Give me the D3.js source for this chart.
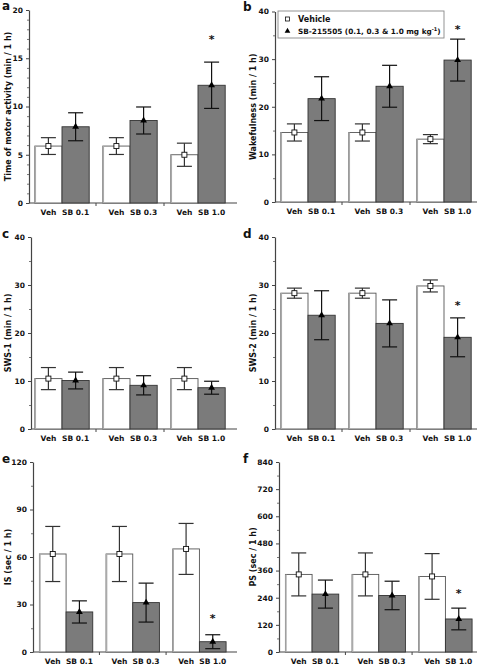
<!DOCTYPE html>
<html><head><meta charset="utf-8">
<script src="https://cdn.jsdelivr.net/npm/d3@7"></script>
<style>
body{margin:0;background:#fff;}
svg{display:block;}
text{font-family:"DejaVu Sans",sans-serif;}
</style></head>
<body>
<svg id="chart" width="480" height="665"></svg>
<script>
// ---- data ----
const groups = ["0.1", "0.3", "1.0"];
const seriesNames = ["Vehicle", "SB-215505"];
const vehLabels = ["Veh", "Veh", "Veh"];
const sbLabels = ["SB 0.1", "SB 0.3", "SB 1.0"];

const motorVeh = [5.9, 5.9, 5.0],   motorVehErr = [0.87, 0.87, 1.2];
const motorSB  = [7.9, 8.55, 12.2], motorSBErr  = [1.45, 1.4, 2.4];
const wakeVeh  = [14.6, 14.6, 13.2], wakeVehErr = [1.8, 1.8, 0.95];
const wakeSB   = [21.7, 24.3, 29.8], wakeSBErr  = [4.6, 4.4, 4.4];
const sws1Veh  = [10.5, 10.5, 10.5], sws1VehErr = [2.3, 2.3, 2.3];
const sws1SB   = [10.1, 9.1, 8.6],   sws1SBErr  = [1.75, 2.0, 1.35];
const sws2Veh  = [28.3, 28.3, 29.8], sws2VehErr = [1.05, 1.05, 1.25];
const sws2SB   = [23.7, 22.0, 19.1], sws2SBErr  = [5.1, 4.9, 4.05];
const isVeh    = [61.9, 61.9, 65.1], isVehErr   = [17.4, 17.4, 16.1];
const isSB     = [25.3, 31.2, 6.5],  isSBErr    = [7.0, 12.3, 4.4];
const psVeh    = [343, 343, 334],    psVehErr   = [95, 95, 101];
const psSB     = [256, 250, 146],    psSBErr    = [62, 63, 48];

const ticksMotor = [0, 5, 10, 15, 20];
const ticksMin40 = [0, 10, 20, 30, 40];
const ticksIS = [0, 30, 60, 90, 120];
const ticksPS = [0, 120, 240, 360, 480, 600, 720, 840];
const minorMotor = d3.range(0, 21, 1);
const minorMin40 = d3.range(0, 41, 5);
const minorIS = d3.range(0, 121, 15);
const minorPS = d3.range(0, 841, 60);

// significance stars (value position, group index)
const starsMotor = [{g: 2, v: 17.2}];
const starsWake  = [{g: 2, v: 36.8}];
const starsSws2  = [{g: 2, v: 26.2}];
const starsIS    = [{g: 2, v: 22.7}];
const starsPS    = [{g: 2, v: 270}];

// ---- layout ----
const panels = [
  {letter: "a", title: "Time of motor activity (min / 1 h)", veh: motorVeh, vehErr: motorVehErr, sb: motorSB, sbErr: motorSBErr, ticks: ticksMotor, minor: minorMotor, stars: starsMotor,
   axisX: 29, axisEnd: 237, x0: 28, x1: 232, y0: 203, y1: 10, lx: 2, ly: 10, tx: 8},
  {letter: "b", title: "Wakefulness (min / 1 h)", veh: wakeVeh, vehErr: wakeVehErr, sb: wakeSB, sbErr: wakeSBErr, ticks: ticksMin40, minor: minorMin40, stars: starsWake,
   axisX: 275, axisEnd: 477, x0: 274, x1: 478, y0: 202, y1: 11.5, lx: 243, ly: 11, tx: 253, legend: true},
  {letter: "c", title: "SWS-1 (min / 1 h)", veh: sws1Veh, vehErr: sws1VehErr, sb: sws1SB, sbErr: sws1SBErr, ticks: ticksMin40, minor: minorMin40, stars: [],
   axisX: 31, axisEnd: 237, x0: 28, x1: 232, y0: 429, y1: 237, lx: 2, ly: 238, tx: 8},
  {letter: "d", title: "SWS-2 (min / 1 h)", veh: sws2Veh, vehErr: sws2VehErr, sb: sws2SB, sbErr: sws2SBErr, ticks: ticksMin40, minor: minorMin40, stars: starsSws2,
   axisX: 275, axisEnd: 477, x0: 274, x1: 478, y0: 429, y1: 237, lx: 243, ly: 238, tx: 253},
  {letter: "e", title: "IS (sec / 1 h)", veh: isVeh, vehErr: isVehErr, sb: isSB, sbErr: isSBErr, ticks: ticksIS, minor: minorIS, stars: starsIS,
   axisX: 33, axisEnd: 237, x0: 32.75, x1: 232.75, y0: 652, y1: 462, lx: 2, ly: 463, tx: 8},
  {letter: "f", title: "PS (sec / 1 h)", veh: psVeh, vehErr: psVehErr, sb: psSB, sbErr: psSBErr, ticks: ticksPS, minor: minorPS, stars: starsPS,
   axisX: 279, axisEnd: 477, x0: 278.75, x1: 478.75, y0: 652, y1: 462, lx: 243, ly: 463, tx: 253}
];

const svg = d3.select("#chart");
const GRAY = "#7b7b7b", AXIS = "#444";
const FONT = "DejaVu Sans, sans-serif";

panels.forEach(p => {
  const g = svg.append("g");
  const yMax = p.ticks[p.ticks.length - 1];
  const y = d3.scaleLinear().domain([0, yMax]).range([p.y0, p.y1]);
  const xg = d3.scaleBand().domain(groups).range([p.x0, p.x1]).paddingInner(0.2).paddingOuter(0.1);
  const xs = d3.scaleBand().domain(seriesNames).range([0, xg.bandwidth()]).padding(0);

  // minor ticks
  g.append("g").attr("transform", `translate(${p.axisX},0)`)
    .call(d3.axisLeft(y).tickValues(p.minor.filter(v => !p.ticks.includes(v))).tickSize(2).tickFormat(""))
    .call(a => a.select(".domain").remove())
    .selectAll("line").attr("stroke", "#777");

  // y axis
  const ya = g.append("g").attr("transform", `translate(${p.axisX},0)`)
    .call(d3.axisLeft(y).tickValues(p.ticks).tickSize(3).tickSizeOuter(0).tickPadding(3));
  ya.select(".domain").attr("stroke", AXIS).attr("stroke-width", 1.2);
  ya.selectAll("line").attr("stroke", AXIS);
  ya.selectAll("text").attr("font-size", 7.5).attr("font-weight", "bold").attr("fill", "#111")
    .attr("font-family", FONT);

  // x axis line with group boundary ticks
  g.append("line").attr("x1", p.axisX).attr("x2", p.axisEnd).attr("y1", p.y0).attr("y2", p.y0)
    .attr("stroke", AXIS).attr("stroke-width", 1.2);
  const step = xg.step();
  groups.slice(1).forEach(gr => {
    const bx = xg(gr) - step * xg.paddingInner() / 2;
    g.append("line").attr("x1", bx).attr("x2", bx).attr("y1", p.y0).attr("y2", p.y0 + 3).attr("stroke", AXIS);
  });

  const rows = groups.map((gr, i) => ({gr, i}));
  // bars
  rows.forEach(({gr, i}) => {
    const bx = xg(gr);
    const vx = bx + xs("Vehicle"), sx = bx + xs("SB-215505"), w = xs.bandwidth();
    g.append("rect").attr("x", vx).attr("y", y(p.veh[i])).attr("width", w).attr("height", y(0) - y(p.veh[i]))
      .attr("fill", "#fff").attr("stroke", "#555").attr("stroke-width", 0.9);
    g.append("line").attr("x1", vx + 0.5).attr("x2", vx + 0.5).attr("y1", y(p.veh[i])).attr("y2", y(0))
      .attr("stroke", "#aaa").attr("stroke-width", 1.5);
    g.append("rect").attr("x", sx).attr("y", y(p.sb[i])).attr("width", w).attr("height", y(0) - y(p.sb[i]))
      .attr("fill", GRAY).attr("stroke", "#333").attr("stroke-width", 0.9);
  });

  // error bars, markers, labels
  const cap = 7.5;
  rows.forEach(({gr, i}) => {
    const bx = xg(gr), w = xs.bandwidth();
    [["Vehicle", p.veh[i], p.vehErr[i]], ["SB-215505", p.sb[i], p.sbErr[i]]].forEach(([s, v, e]) => {
      const cx = bx + xs(s) + w / 2;
      const col = s === "Vehicle" ? "#333" : "#111";
      g.append("line").attr("x1", cx).attr("x2", cx).attr("y1", y(v + e)).attr("y2", y(v - e)).attr("stroke", col).attr("stroke-width", 1.2);
      [v + e, v - e].forEach(t => g.append("line").attr("x1", cx - cap).attr("x2", cx + cap).attr("y1", y(t)).attr("y2", y(t))
        .attr("stroke", col).attr("stroke-width", 1.2));
      if (s === "Vehicle") {
        g.append("rect").attr("x", cx - 2.5).attr("y", y(v) - 2.5).attr("width", 5).attr("height", 5)
          .attr("fill", "#fff").attr("stroke", "#111").attr("stroke-width", 0.9);
      } else {
        g.append("path").attr("d", d3.symbol(d3.symbolTriangle, 20)()).attr("transform", `translate(${cx},${y(v)})`).attr("fill", "#000");
      }
    });
    const ly = p.y0 + 11.5;
    g.append("text").attr("x", bx + xs("Vehicle") + w / 2).attr("y", ly).attr("text-anchor", "middle")
      .attr("font-size", 7.5).attr("font-weight", "bold").attr("fill", "#111").text(vehLabels[i]);
    g.append("text").attr("x", bx + xs("SB-215505") + w / 2).attr("y", ly).attr("text-anchor", "middle")
      .attr("font-size", 7.5).attr("font-weight", "bold").attr("fill", "#111").text(sbLabels[i]);
  });

  // stars
  p.stars.forEach(st => {
    const cx = xg(groups[st.g]) + xs("SB-215505") + xs.bandwidth() / 2;
    g.append("text").attr("x", cx).attr("y", y(st.v) + 6).attr("text-anchor", "middle")
      .attr("font-size", 11).attr("font-weight", "bold").attr("fill", "#111").text("*");
  });

  // panel letter
  g.append("text").attr("x", p.lx).attr("y", p.ly).attr("font-size", 12).attr("font-weight", "bold").attr("fill", "#111").text(p.letter);

  // y title
  const cy = (p.y0 + p.y1) / 2;
  g.append("text").attr("transform", `translate(${p.tx},${cy}) rotate(-90)`).attr("text-anchor", "middle")
    .attr("dominant-baseline", "central").attr("font-size", 8).attr("font-weight", "bold").attr("fill", "#111").text(p.title);

  // legend
  if (p.legend) {
    const lg = g.append("g");
    lg.append("rect").attr("x", 278).attr("y", 11).attr("width", 166).attr("height", 27)
      .attr("fill", "#fff").attr("stroke", "#888").attr("stroke-width", 0.9);
    lg.append("rect").attr("x", 285.5).attr("y", 17).attr("width", 4).attr("height", 4)
      .attr("fill", "#fff").attr("stroke", "#111").attr("stroke-width", 0.8);
    lg.append("path").attr("d", d3.symbol(d3.symbolTriangle, 14)()).attr("transform", "translate(287.5,31)").attr("fill", "#000");
    lg.append("text").attr("x", 298).attr("y", 22).attr("font-size", 8).attr("font-weight", "bold").attr("fill", "#111").text("Vehicle");
    const t = lg.append("text").attr("x", 298).attr("y", 34).attr("font-size", 7.3).attr("font-weight", "bold").attr("fill", "#111");
    t.append("tspan").text("SB-215505 (0.1, 0.3 & 1.0 mg kg");
    t.append("tspan").attr("dy", -3).attr("font-size", 5).text("-1");
    t.append("tspan").attr("dy", 3).text(")");
  }
});
</script>
</body></html>
